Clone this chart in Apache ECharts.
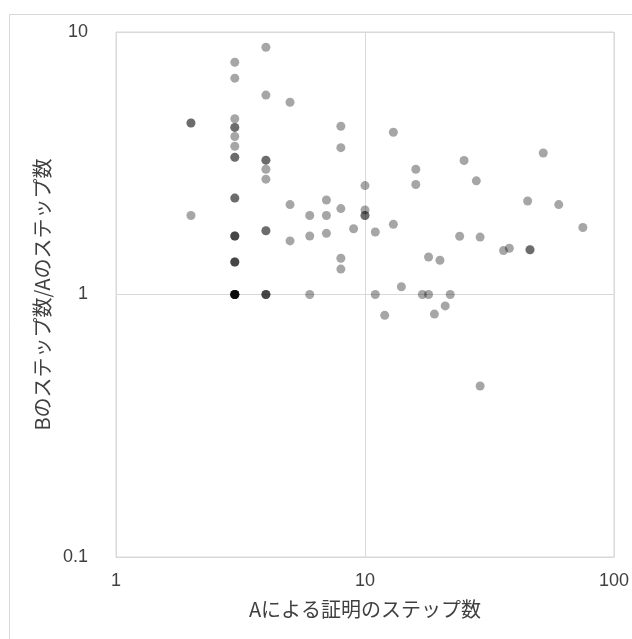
<!DOCTYPE html>
<html><head><meta charset="utf-8">
<script src="https://cdn.jsdelivr.net/npm/echarts@6/dist/echarts.min.js"></script>
<style>html,body{margin:0;padding:0;background:#fff}#c{width:632px;height:639px}</style>
</head><body><div id="c"></div>
<script>
const xTitle = "Aによる証明のステップ数";
const yTitle = "Bのステップ数/Aのステップ数";
// A's step counts (repeated entries = overlapping points); aligned line by line with ratioBA
const stepsA = [
  2, 2, 2,
  3, 3, 3, 3, 3, 3, 3, 3, 3, 3, 3,
  3, 3, 3, 3, 3, 3,
  3, 3, 3, 3, 3, 3, 3,
  4, 4, 4, 4, 4, 4, 4, 4, 4, 4, 4,
  5, 5, 5,
  6, 6, 6,
  7, 7, 7,
  8, 8, 8, 8, 8,
  9,
  10, 10, 10, 10,
  11, 11,
  12,
  13, 13,
  14,
  16, 16,
  17,
  18, 18,
  19, 20, 21, 22, 24, 25, 28,
  29, 29,
  36, 38, 45,
  46, 46,
  52, 60, 75];
const ratioBA = [
  4.5, 4.5, 2.0,
  7.67, 6.67, 4.67, 4.33, 4.33, 4.0, 3.67, 3.33, 3.33, 2.33, 2.33,
  1.67, 1.67, 1.67, 1.33, 1.33, 1.33,
  1, 1, 1, 1, 1, 1, 1,
  8.75, 5.75, 3.25, 3.25, 3.0, 2.75, 1.75, 1.75, 1, 1, 1,
  5.4, 2.2, 1.6,
  2.0, 1.67, 1,
  2.29, 2.0, 1.71,
  4.375, 3.625, 2.125, 1.375, 1.25,
  1.78,
  2.6, 2.1, 2.0, 2.0,
  1.73, 1,
  0.833,
  4.15, 1.85,
  1.07,
  3.0, 2.625,
  1,
  1.39, 1,
  0.842, 1.35, 0.905, 1, 1.667, 3.24, 2.71,
  1.655, 0.448,
  1.47, 1.5, 2.27,
  1.48, 1.48,
  3.46, 2.2, 1.8];
const xTicks = [1, 10, 100];
const yTicks = [0.1, 1, 10];

const pts = stepsA.map((a, i) => [a, ratioBA[i]]);
const chart = echarts.init(document.getElementById('c'), null, {renderer: 'canvas'});
const lab = {color: '#404040', fontSize: 18, fontFamily: 'Liberation Sans'};
chart.setOption({
  animation: false,
  backgroundColor: '#fff',
  graphic: [{type: 'rect', shape: {x: 9.5, y: 14.5, width: 640, height: 640},
    style: {fill: 'none', stroke: '#d9d9d9', lineWidth: 1}, silent: true}],
  grid: {left: 116, top: 32, right: 17, bottom: 82, show: true, borderColor: '#d9d9d9', borderWidth: 1},
  xAxis: {type: 'log', logBase: 10, min: xTicks[0], max: xTicks[2],
    name: xTitle, nameLocation: 'middle', nameGap: 42,
    nameTextStyle: {color: '#404040', fontSize: 20, fontFamily: 'Noto Sans CJK JP'},
    axisLine: {show: true, lineStyle: {color: '#d9d9d9'}}, axisTick: {show: false},
    minorTick: {show: false},
    axisLabel: Object.assign({margin: 15}, lab),
    splitLine: {show: true, lineStyle: {color: '#d9d9d9', width: 1}}},
  yAxis: {type: 'log', logBase: 10, min: yTicks[0], max: yTicks[2],
    name: yTitle, nameLocation: 'middle', nameGap: 63,
    nameTextStyle: {color: '#404040', fontSize: 20, fontFamily: 'Noto Sans CJK JP'},
    axisLine: {show: true, lineStyle: {color: '#d9d9d9'}}, axisTick: {show: false},
    axisLabel: Object.assign({margin: 28}, lab),
    splitLine: {show: true, lineStyle: {color: '#d9d9d9', width: 1}}},
  series: [{type: 'scatter', data: pts, symbol: 'circle', symbolSize: 9,
    itemStyle: {color: '#000', opacity: 0.35}}]
});
</script></body></html>
